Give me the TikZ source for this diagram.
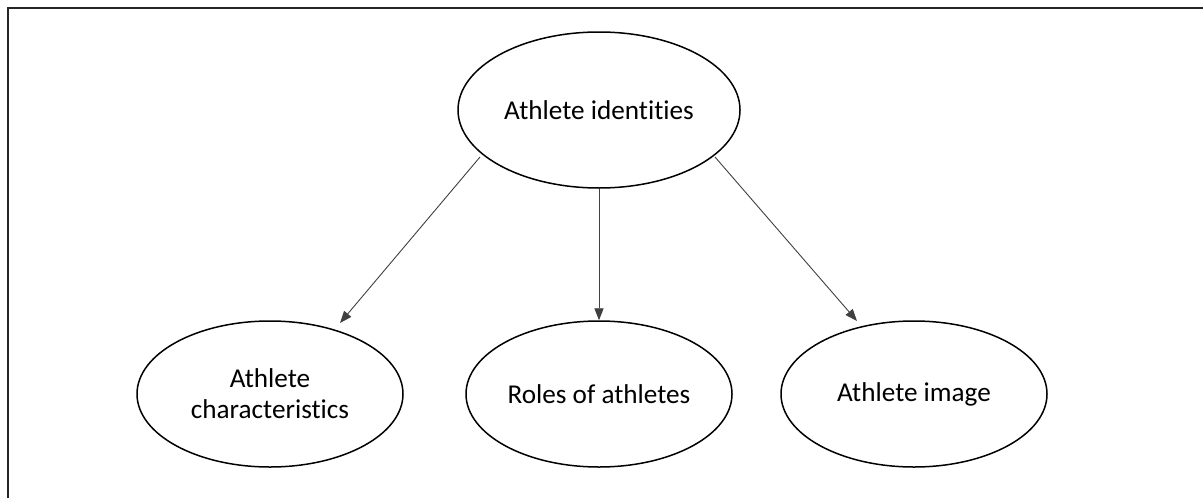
\documentclass[tikz,border=0pt]{standalone}
\usepackage{fontspec}
\setmainfont{Carlito}[Ligatures=NoCommon]
\usepackage{tikz}
\usetikzlibrary{shapes.geometric}
\usetikzlibrary{arrows.meta}
\usetikzlibrary{positioning}
\begin{document}
\begin{tikzpicture}[x=0.5pt,y=-0.5pt,
  every node/.style={draw,ellipse,line width=0.75pt,inner sep=0pt,align=center,
    font=\fontsize{13.6pt}{15.5pt}\selectfont},
  sub/.style={minimum width=133pt,minimum height=73pt},
  link/.style={line width=0.45pt,black!75,-{Triangle[length=6pt,width=4.6pt]}}]
  \useasboundingbox (0,0) rectangle (1203,498);
  \draw[line width=1.1pt,black!85](8,498)--(8,8)--(1203,8);
  \node (id) at (599,110)[minimum width=141pt,minimum height=78pt]{Athlete identities};
  \node (char) at (270,394)[sub]{Athlete\\characteristics};
  \node (roles) at (599,394)[sub]{Roles of athletes};
  \node (img) at (914,394)[sub]{Athlete image};
  \coordinate (sl) at (480,157);
  \coordinate (tl) at (340,323);
  \coordinate (sr) at (715,157);
  \coordinate (tr) at (857,321);
  \draw[link](sl)--(tl);
  \draw[link](id.south)--(roles.north);
  \draw[link](sr)--(tr);
  \end{tikzpicture}
\end{document}
